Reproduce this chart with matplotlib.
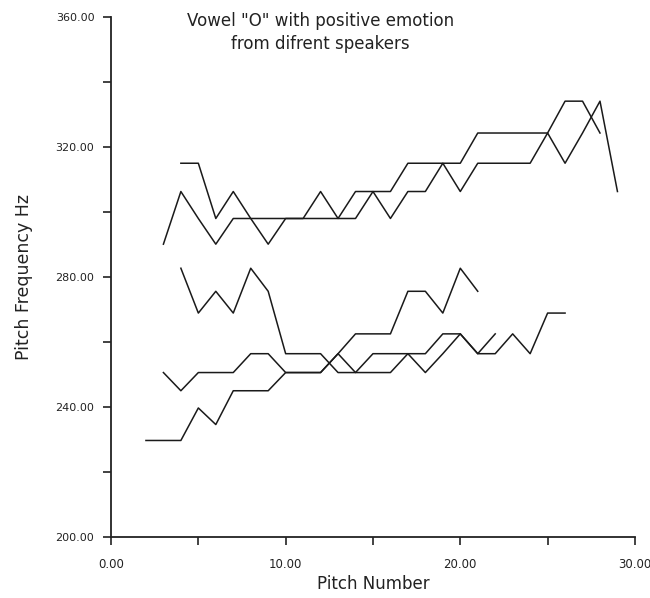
import matplotlib
matplotlib.use('Agg')
import matplotlib.pyplot as plt
from matplotlib.ticker import MultipleLocator, FormatStrFormatter

# pitch number -> pitch frequency (Hz), one list per speaker
x_a = list(range(3, 30))
y_a = [290.1, 306.3, 298.0, 290.1, 298.0, 298.0, 298.0, 298.0, 298.0, 298.0, 298.0, 298.0,
       306.3, 298.0, 306.3, 306.3, 315.0, 306.3, 315.0, 315.0, 315.0, 315.0, 324.3, 315.0,
       324.3, 334.1, 306.3]

x_b = list(range(4, 29))
y_b = [315.0, 315.0, 298.0, 306.3, 298.0, 290.1, 298.0, 298.0, 306.3, 298.0, 306.3, 306.3,
       306.3, 315.0, 315.0, 315.0, 315.0, 324.3, 324.3, 324.3, 324.3, 324.3, 334.1, 334.1,
       324.3]

x_c = list(range(4, 23))
y_c = [282.7, 268.9, 275.6, 268.9, 282.7, 275.6, 256.4, 256.4, 256.4, 250.6, 250.6, 250.6,
       250.6, 256.4, 250.6, 256.4, 262.5, 256.4, 262.5]

x_d = list(range(3, 22))
y_d = [250.6, 245.0, 250.6, 250.6, 250.6, 256.4, 256.4, 250.6, 250.6, 250.6, 256.4, 262.5,
       262.5, 262.5, 275.6, 275.6, 268.9, 282.7, 275.6]

x_e = list(range(2, 27))
y_e = [229.7, 229.7, 229.7, 239.7, 234.6, 245.0, 245.0, 245.0, 250.6, 250.6, 250.6, 256.4,
       250.6, 256.4, 256.4, 256.4, 256.4, 262.5, 262.5, 256.4, 256.4, 262.5, 256.4, 268.9,
       268.9]

fig = plt.figure(figsize=(6.5, 5.98), dpi=100)
ax = fig.add_axes([0.1708, 0.102, 0.806, 0.8696])

for xs, ys in [(x_a, y_a), (x_b, y_b), (x_c, y_c), (x_d, y_d), (x_e, y_e)]:
    ax.plot(xs, ys, color='#1a1a1a', lw=1.1)

ax.set_xlim(0, 30)
ax.set_ylim(200, 360)
ax.spines['top'].set_visible(False)
ax.spines['right'].set_visible(False)
ax.spines['left'].set_color('#222222')
ax.spines['bottom'].set_color('#222222')
ax.spines['left'].set_linewidth(1.3)
ax.spines['bottom'].set_linewidth(1.3)

ax.xaxis.set_major_locator(MultipleLocator(10))
ax.xaxis.set_minor_locator(MultipleLocator(5))
ax.yaxis.set_major_locator(MultipleLocator(40))
ax.yaxis.set_minor_locator(MultipleLocator(20))
ax.xaxis.set_major_formatter(FormatStrFormatter('%.2f'))
ax.yaxis.set_major_formatter(FormatStrFormatter('%.2f'))
ax.tick_params(axis='both', which='both', direction='out', length=6, width=1.2,
               color='#222222')
ax.tick_params(axis='x', labelsize=8.5, pad=9, labelcolor='#222222')
ax.tick_params(axis='y', labelsize=8, pad=6, labelcolor='#222222')

ax.set_xlabel("Pitch Number", fontsize=12, labelpad=3, color='#222222')
ax.set_ylabel("Pitch Frequency Hz", fontsize=12.5, labelpad=16, color='#222222')

fig.text(0.493, 0.98, 'Vowel "O" with positive emotion\nfrom difrent speakers',
         ha='center', va='top', fontsize=12, color='#222222', linespacing=1.35)

plt.savefig('out.png', dpi=100)
